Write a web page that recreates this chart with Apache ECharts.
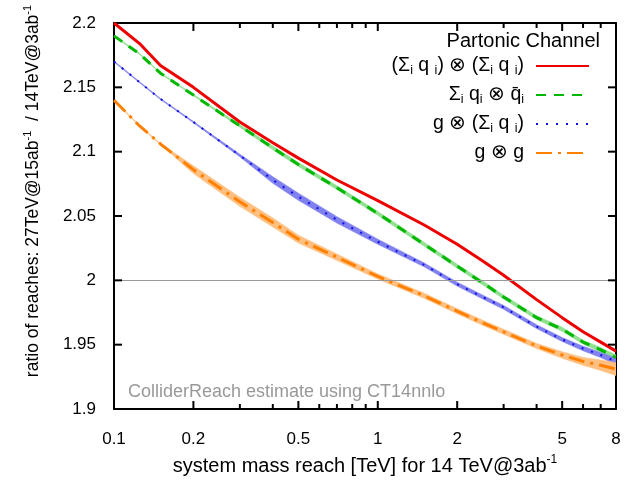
<!DOCTYPE html>
<html><head><meta charset="utf-8">
<script src="https://cdn.jsdelivr.net/npm/echarts@6.0.0/dist/echarts.min.js"></script>
<style>html,body{margin:0;padding:0;background:#fff}#c{width:631px;height:481px}</style>
</head><body><div id="c"></div>
<script>
// ---- data ----
const massReach = [0.1, 0.125, 0.15, 0.2, 0.3, 0.4, 0.5, 0.7, 1, 1.5, 2, 2.5, 3, 4, 5, 6, 7, 8];
const qqSum  = [2.200, 2.184, 2.167, 2.150, 2.123, 2.107, 2.095, 2.078, 2.062, 2.043, 2.028, 2.015, 2.004, 1.985, 1.971, 1.960, 1.952, 1.945];
const qqbar  = [2.190, 2.176, 2.161, 2.144, 2.120, 2.103, 2.090, 2.072, 2.052, 2.028, 2.011, 1.998, 1.987, 1.971, 1.962, 1.952, 1.946, 1.940];
const gqSum  = [2.170, 2.154, 2.141, 2.123, 2.097, 2.078, 2.065, 2.047, 2.030, 2.012, 1.997, 1.987, 1.979, 1.964, 1.954, 1.947, 1.942, 1.937];
const gg     = [2.140, 2.120, 2.106, 2.086, 2.061, 2.045, 2.032, 2.018, 2.003, 1.988, 1.976, 1.967, 1.960, 1.949, 1.942, 1.937, 1.934, 1.931];
const qqbarBand = [0.0008, 0.0008, 0.0008, 0.001, 0.002, 0.003, 0.003, 0.003, 0.003, 0.003, 0.003, 0.003, 0.003, 0.003, 0.003, 0.003, 0.0035, 0.004];
const gqBand    = [0.0008, 0.0008, 0.0008, 0.001, 0.002, 0.005, 0.0055, 0.005, 0.004, 0.003, 0.003, 0.003, 0.003, 0.003, 0.003, 0.0035, 0.004, 0.005];
const ggBand    = [0.0008, 0.0008, 0.0008, 0.006, 0.007, 0.007, 0.006, 0.005, 0.004, 0.004, 0.004, 0.004, 0.004, 0.004, 0.005, 0.006, 0.008, 0.010];
const xLabelValues = [0.1, 0.2, 0.5, 1, 2, 5, 8];
const xMajorTicks = [0.2, 0.5, 1, 2, 5];
const xMinorTicks = [0.3, 0.4, 0.6, 0.7, 0.8, 0.9, 3, 4, 6, 7];
const yTickValues = [1.95, 2, 2.05, 2.1, 2.15];
const xMin = 0.1, xMax = 8;
const yMin = 1.9, yMax = 2.2, yStep = 0.05;
const refLine = 2;
const seriesNames = ['qq', 'qqbar', 'gq', 'gg'];
const legendText = {
  qq: '{t|(Σ}{s|i}{t| q }{s|i}{t|) ⊗ (Σ}{s|i}{t| q }{s|i}{t|)}',
  qqbar: '{t|Σ}{s|i}{t| q}{s|i}{t| ⊗ q\u0304}{s|i}',
  gq: '{t|g ⊗ (Σ}{s|i}{t| q }{s|i}{t|)}',
  gg: '{t|g ⊗ g}'
};

const FONT = '"Liberation Sans", Arial, Helvetica, sans-serif';
const pairs = ys => massReach.map((x, i) => [x, ys[i]]);

const xAxis = {
  type: 'log', logBase: 10, min: xMin, max: xMax, position: 'bottom',
  axisLine: { show: true, onZero: false, lineStyle: { color: '#000', width: 2 } },
  axisTick: { show: false },
  axisLabel: {
    show: true, customValues: xLabelValues, margin: 22, fontSize: 17, fontFamily: FONT, color: '#000',
    formatter: v => String(+Number(v).toPrecision(3))
  },
  splitLine: { show: false }, minorTick: { show: false }, minorSplitLine: { show: false },
  name: '{n|system mass reach [TeV] for 14 TeV@3ab}{p|-1}',
  nameLocation: 'middle', nameGap: 45,
  nameTextStyle: { rich: { n: { fontSize: 20, fontFamily: FONT, color: '#000', lineHeight: 24 }, p: { fontSize: 12, fontFamily: FONT, color: '#000', verticalAlign: 'top', lineHeight: 13 } } }
};
const xAxisTop = {
  type: 'log', logBase: 10, min: xMin, max: xMax, position: 'top',
  axisLine: { show: true, onZero: false, lineStyle: { color: '#000', width: 2 } },
  axisTick: { show: false }, axisLabel: { show: false }, splitLine: { show: false }
};
const yAxisLeft = {
  type: 'value', min: yMin, max: yMax, interval: yStep, position: 'left',
  axisLine: { show: true, onZero: false, lineStyle: { color: '#000', width: 2 } },
  axisTick: { show: false },
  axisLabel: { show: true, margin: 18, fontSize: 17, fontFamily: FONT, color: '#000' },
  splitLine: { show: false },
  name: '{n|ratio of reaches: 27TeV@15ab}{p|-1}{n|  / 14TeV@3ab}{p|-1}',
  nameLocation: 'middle', nameGap: 70,
  nameTextStyle: { padding: [0, 0, 0, 50], rich: { n: { fontSize: 17.5, fontFamily: FONT, color: '#000', lineHeight: 22 }, p: { fontSize: 11, fontFamily: FONT, color: '#000', verticalAlign: 'top', lineHeight: 12 } } }
};
const yAxisRight = {
  type: 'value', min: yMin, max: yMax, interval: yStep, position: 'right',
  axisLine: { show: true, onZero: false, lineStyle: { color: '#000', width: 2 } },
  axisTick: { show: false }, axisLabel: { show: false }, splitLine: { show: false }
};

function band(name, center, width, color, extra) {
  return Object.assign({
    name: name + '_band', type: 'custom', silent: true, z: 1, clip: true,
    data: massReach.map((x, i) => [x, center[i] - width[i] / 2, center[i] + width[i] / 2]),
    encode: { x: 0, y: [1, 2] },
    renderItem: (params, api) => {
      if (params.dataIndex !== 0) return null;
      const pts = [];
      for (let i = 0; i < massReach.length; i++) pts.push(api.coord([massReach[i], center[i] - width[i] / 2]));
      for (let i = massReach.length - 1; i >= 0; i--) pts.push(api.coord([massReach[i], center[i] + width[i] / 2]));
      return { type: 'polygon', shape: { points: pts }, style: { fill: color, stroke: color, lineWidth: 0.6 } };
    }
  }, extra || {});
}

// tick marks as small filled polygons positioned through the axes' scales
function xTicks(values, len) {
  return {
    type: 'custom', silent: true, z: 6, clip: false,
    data: values.map(v => [v, yMin]), encode: { x: 0, y: 1 },
    renderItem: (params, api) => {
      const v = values[params.dataIndex];
      const b = api.coord([v, yMin]), t = api.coord([v, yMax]);
      const w = 1;
      return { type: 'group', children: [
        { type: 'polygon', shape: { points: [[b[0] - w, b[1]], [b[0] + w, b[1]], [b[0] + w, b[1] - len], [b[0] - w, b[1] - len]] }, style: { fill: '#000' } },
        { type: 'polygon', shape: { points: [[t[0] - w, t[1]], [t[0] + w, t[1]], [t[0] + w, t[1] + len], [t[0] - w, t[1] + len]] }, style: { fill: '#000' } }
      ] };
    }
  };
}
function yTicks(values, len) {
  return {
    type: 'custom', silent: true, z: 6, clip: false,
    data: values.map(v => [xMin, v]), encode: { x: 0, y: 1 },
    renderItem: (params, api) => {
      const v = values[params.dataIndex];
      const l = api.coord([xMin, v]), r = api.coord([xMax, v]);
      const w = 1;
      return { type: 'group', children: [
        { type: 'polygon', shape: { points: [[l[0], l[1] - w], [l[0] + len, l[1] - w], [l[0] + len, l[1] + w], [l[0], l[1] + w]] }, style: { fill: '#000' } },
        { type: 'polygon', shape: { points: [[r[0], r[1] - w], [r[0] - len, r[1] - w], [r[0] - len, r[1] + w], [r[0], r[1] + w]] }, style: { fill: '#000' } }
      ] };
    }
  };
}

const series = [
  band('qqbar', qqbar, qqbarBand, '#8fe08f', {
    markLine: { silent: true, symbol: 'none', label: { show: false }, lineStyle: { color: '#999', type: 'solid', width: 1 }, data: [{ yAxis: refLine }] }
  }),
  band('gq', gqSum, gqBand, '#8080ee'),
  band('gg', gg, ggBand, '#ffbf80'),
  { name: 'qq', type: 'line', data: pairs(qqSum), symbol: 'none', z: 3, color: '#ee0000', lineStyle: { color: '#ee0000', width: 3 } },
  { name: 'qqbar', type: 'line', data: pairs(qqbar), symbol: 'none', z: 3, color: '#00b800', lineStyle: { color: '#00b800', width: 3, type: [10, 8] } },
  { name: 'gq', type: 'line', data: pairs(gqSum), symbol: 'none', z: 3, color: '#1010e6', lineStyle: { color: '#1010e6', width: 2, type: [2, 8] } },
  { name: 'gg', type: 'line', data: pairs(gg), symbol: 'none', z: 3, color: '#ff8000', lineStyle: { color: '#ff8000', width: 3, type: [16, 6, 3, 6] } },
  xTicks(xMajorTicks, 8),
  xTicks(xMinorTicks, 5),
  yTicks(yTickValues, 8)
];

const chart = echarts.init(document.getElementById('c'), null, { renderer: 'canvas' });
chart.setOption({
  animation: false,
  backgroundColor: '#fff',
  grid: { left: 114, right: 15, top: 23, bottom: 68, containLabel: false },
  title: { text: 'Partonic Channel', right: 31, top: 31, padding: 0, textStyle: { fontSize: 20, fontWeight: 'normal', fontFamily: FONT, color: '#000' } },
  legend: {
    data: seriesNames, orient: 'vertical', right: 36, top: 51, align: 'right',
    itemWidth: 53, itemHeight: 14, itemGap: 8, selectedMode: false,
    itemStyle: { opacity: 0, borderWidth: 0 },
    formatter: n => legendText[n],
    textStyle: {
      fontFamily: FONT, fontSize: 19.5, color: '#000', padding: [0, 7, 0, 0],
      rich: {
        t: { fontSize: 19.5, fontFamily: FONT, color: '#000', lineHeight: 22 },
        s: { fontSize: 12.5, fontFamily: FONT, color: '#000', verticalAlign: 'bottom', lineHeight: 14 }
      }
    }
  },
  graphic: [{ type: 'text', left: 128, top: 383, style: { text: 'ColliderReach estimate using CT14nnlo', fontSize: 18, fill: '#999', fontFamily: FONT } }],
  xAxis: [xAxis, xAxisTop],
  yAxis: [yAxisLeft, yAxisRight],
  series: series
});
</script></body></html>
